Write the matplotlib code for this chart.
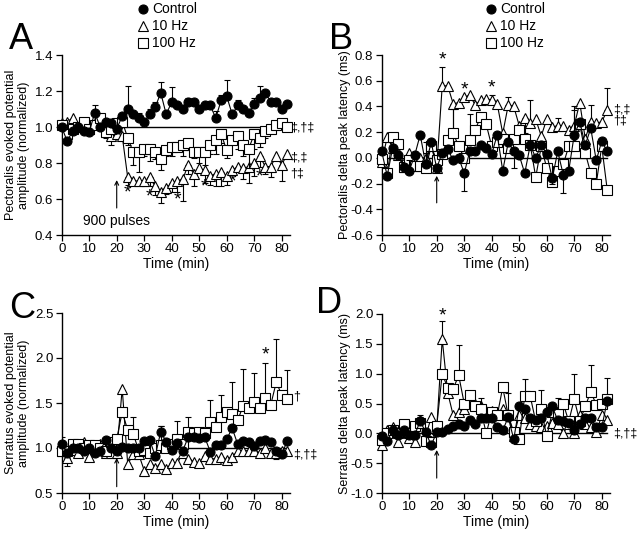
import numpy as np
import matplotlib
matplotlib.use("Agg")
import matplotlib.pyplot as plt
from matplotlib.lines import Line2D

plt.rcParams['font.family'] = ['Liberation Sans', 'DejaVu Sans']
plt.rcParams['axes.unicode_minus'] = False

# time points (min)
time = list(range(0, 84, 2))

# ---- A: pectoralis amplitude (normalized) ----
a_ctrl = [1.00, 0.92, 0.98, 1.00, 0.98, 0.97, 1.08, 1.00, 1.03, 1.02,
          0.99, 1.06, 1.10, 1.07, 1.05, 1.03, 1.07, 1.11, 1.19, 1.07,
          1.14, 1.12, 1.10, 1.14, 1.14, 1.10, 1.12, 1.12, 1.05, 1.15,
          1.17, 1.07, 1.12, 1.10, 1.08, 1.13, 1.16, 1.19, 1.14, 1.14,
          1.10, 1.13]
a_10 = [1.02, 1.03, 1.05, 1.00, 1.02, 0.99, 1.02, 1.03, 0.97, 0.95,
        0.96, 0.95, 0.72, 0.70, 0.70, 0.70, 0.72, 0.67, 0.64, 0.66,
        0.69, 0.70, 0.71, 0.79, 0.74, 0.77, 0.76, 0.73, 0.74, 0.75,
        0.73, 0.76, 0.78, 0.77, 0.78, 0.80, 0.84, 0.78, 0.78, 0.84,
        0.79, 0.85]
a_100 = [1.01, 0.96, 0.99, 1.00, 1.03, 0.99, 1.01, 1.05, 0.97, 0.99,
         1.02, 1.03, 0.94, 0.86, 0.86, 0.88, 0.88, 0.86, 0.82, 0.87,
         0.89, 0.89, 0.90, 0.91, 0.86, 0.86, 0.86, 0.90, 0.93, 0.96,
         0.87, 0.93, 0.95, 0.90, 0.88, 0.96, 0.94, 0.98, 0.99, 1.01,
         1.02, 1.00]
a_ctrl_err = [0, 0, 0, 0, 0, 0, 0.04, 0, 0, 0,
              0, 0, 0.13, 0, 0.03, 0, 0.03, 0.03, 0.06, 0,
              0.08, 0, 0, 0.02, 0, 0, 0, 0, 0.04, 0.03,
              0.09, 0, 0.03, 0, 0, 0.03, 0.07, 0, 0, 0,
              0, 0]
a_10_err = [0, 0, 0, 0, -0.02, 0, 0, 0, -0.03, -0.05,
            0, 0, -0.04, 0, 0, -0.03, -0.05, -0.05, -0.06, -0.03,
            -0.05, -0.06, -0.12, -0.05, -0.07, 0, -0.07, -0.05, -0.07, -0.08,
            -0.05, 0, 0, -0.06, -0.09, -0.07, -0.06, -0.04, -0.06, 0,
            -0.09, 0]
a_100_err = [0, -0.03, 0, 0, 0, 0, 0, 0, -0.02, 0,
             -0.03, 0, -0.04, -0.07, -0.11, -0.04, -0.07, -0.04, -0.06, -0.03,
             -0.05, 0, -0.06, -0.04, -0.03, -0.06, -0.07, -0.05, -0.08, -0.05,
             -0.04, 0, -0.07, -0.06, -0.11, -0.08, -0.05, -0.04, 0, 0,
             0, 0]

# ---- B: pectoralis delta peak latency (ms) ----
b_ctrl = [0.05, -0.14, 0.08, 0.02, -0.07, -0.10, 0.02, 0.18, -0.05, 0.12,
          -0.08, 0.04, 0.07, -0.02, 0.00, -0.12, 0.05, 0.05, 0.10, 0.08,
          0.03, 0.18, -0.10, 0.12, 0.05, 0.02, -0.12, 0.10, 0.00, 0.10,
          0.03, -0.16, 0.05, -0.13, -0.10, 0.18, 0.28, 0.10, 0.23, -0.02,
          0.13, 0.05]
b_10 = [-0.03, 0.16, 0.08, 0.02, -0.07, 0.04, -0.03, 0.00, 0.00, 0.10,
        -0.08, 0.56, 0.56, 0.42, 0.43, 0.47, 0.49, 0.41, 0.45, 0.46,
        0.45, 0.42, 0.19, 0.41, 0.40, 0.25, 0.31, 0.27, 0.30, 0.17,
        0.30, 0.24, 0.25, 0.25, 0.22, 0.25, 0.43, 0.15, 0.28, 0.27,
        0.28, 0.37]
b_100 = [-0.01, -0.12, 0.16, 0.11, -0.07, -0.02, -0.06, -0.06, -0.08, 0.09,
         -0.02, 0.03, 0.14, 0.19, 0.09, 0.00, 0.14, 0.22, 0.32, 0.26,
         0.09, 0.12, 0.15, 0.08, 0.15, 0.22, 0.15, 0.10, -0.15, 0.09,
         -0.08, -0.19, -0.10, -0.05, 0.09, 0.09, 0.26, 0.04, -0.12, -0.20,
         0.09, -0.25]
b_ctrl_err = [0, 0, 0, 0, 0, 0.08, 0, 0, 0.09, 0,
              0, 0, 0, 0, 0, -0.14, 0, 0, 0, 0,
              0, 0, 0, 0, -0.13, 0, 0, 0, 0, 0,
              0, -0.04, 0, -0.14, 0, 0, 0, 0, 0, 0,
              0, 0]
b_10_err = [0, 0, 0, 0, 0, 0, 0, 0, 0.12, 0,
            0, 0.15, 0, -0.20, 0, 0, 0, 0, 0, 0,
            0.04, 0, 0, 0.06, 0, 0, -0.12, 0.18, 0, 0,
            0, 0, 0.06, 0, 0, 0.12, 0, 0, 0.13, 0,
            0, 0.17]
b_100_err = [0, 0, 0, 0, 0, 0, 0, 0, 0, 0,
             0, 0, 0, 0.19, 0, 0, 0.20, 0, 0, 0,
             0, 0, 0, 0, 0, 0, 0, 0, 0, 0,
             0, 0, 0, 0, 0, 0.31, 0, 0, 0, 0,
             0, 0]

# ---- C: serratus amplitude (normalized) ----
c_ctrl = [1.04, 0.95, 1.00, 1.00, 0.97, 1.00, 0.95, 0.97, 1.09, 1.00,
          0.97, 1.01, 1.00, 1.00, 1.00, 1.08, 1.09, 0.91, 1.18, 1.07,
          0.98, 1.06, 0.97, 1.12, 1.12, 1.11, 1.12, 0.96, 1.03, 1.03,
          1.10, 1.22, 1.04, 1.08, 1.07, 1.02, 1.08, 1.09, 1.07, 0.97,
          0.93, 1.08]
c_10 = [0.97, 0.89, 0.98, 0.95, 1.07, 0.90, 1.00, 1.05, 0.94, 0.95,
        0.95, 1.66, 0.82, 0.93, 0.93, 0.75, 0.82, 0.78, 0.82, 0.77,
        0.83, 0.83, 0.94, 0.88, 0.85, 0.83, 0.91, 0.88, 0.88, 0.90,
        0.87, 0.90, 0.97, 0.97, 0.97, 0.97, 0.95, 1.00, 0.95, 0.95,
        0.97, 0.97]
c_100 = [0.97, 0.97, 1.05, 1.05, 1.00, 1.03, 1.03, 1.00, 0.97, 1.07,
         1.10, 1.40, 1.20, 1.16, 0.97, 0.98, 0.95, 1.00, 1.03, 1.00,
         1.05, 1.10, 1.05, 1.18, 1.17, 1.18, 1.17, 1.29, 1.23, 1.35,
         1.40, 1.38, 1.31, 1.47, 1.44, 1.51, 1.44, 1.56, 1.48, 1.73,
         1.59, 1.55]
c_ctrl_err = [0.08, 0, 0, 0, 0, 0, 0, 0, 0, 0,
              0, 0, 0, 0, 0, 0, 0, 0, 0.06, 0,
              0, 0, 0, 0, 0, 0, 0, 0, 0, 0,
              0, 0, 0, 0, 0, 0, 0, 0, 0, 0,
              0, 0]
c_10_err = [0, -0.09, 0, -0.05, 0, -0.04, 0, 0, -0.04, 0,
            0, 0, 0, 0, 0, -0.06, -0.05, 0, -0.05, -0.04,
            -0.04, 0, 0, -0.04, -0.05, 0, -0.05, 0, -0.04, -0.05,
            0, -0.06, 0, 0, 0, -0.05, 0, 0, 0, -0.07,
            0, 0]
c_100_err = [0, 0, 0, 0, 0, 0, 0, 0, 0, 0.03,
             0, 0, 0.03, 0.19, 0, 0, 0, 0, 0.22, 0,
             0, 0.20, 0, 0.16, 0, 0, 0, 0.24, 0, 0.24,
             0, 0.35, 0, 0.41, 0, 0.32, 0, 0.38, 0, 0.48,
             0, 0.32]

# ---- D: serratus delta peak latency (ms) ----
d_ctrl = [-0.05, -0.13, 0.05, -0.03, 0.05, -0.03, -0.02, 0.20, 0.02, -0.20,
          0.02, 0.03, 0.08, 0.12, 0.15, 0.12, 0.22, 0.15, 0.25, 0.25,
          0.25, 0.10, 0.05, 0.27, -0.10, 0.45, 0.40, 0.26, 0.22, 0.25,
          0.35, 0.45, 0.22, 0.20, 0.18, 0.05, 0.15, 0.25, 0.25, 0.10,
          0.10, 0.55]
d_10 = [-0.20, 0.05, 0.10, -0.15, 0.10, -0.07, -0.15, 0.22, -0.05, 0.27,
        0.08, 1.58, 0.68, 0.30, 0.35, 0.40, 0.55, 0.50, 0.45, 0.38,
        0.38, 0.35, 0.40, 0.32, -0.05, 0.30, 0.25, 0.15, 0.12, 0.10,
        0.12, 0.18, 0.15, 0.00, 0.15, 0.00, 0.30, 0.15, 0.10, 0.02,
        0.30, 0.22]
d_100 = [-0.12, 0.00, 0.05, 0.00, 0.15, 0.00, 0.12, 0.18, -0.13, -0.15,
         0.12, 1.00, 0.76, 0.75, 0.97, 0.50, 0.65, 0.45, 0.40, 0.00,
         0.35, 0.30, 0.77, 0.30, 0.02, -0.10, 0.62, 0.62, 0.20, 0.40,
         -0.05, 0.35, 0.32, 0.50, 0.20, 0.57, 0.20, 0.45, 0.70, 0.48,
         0.50, 0.58]
d_ctrl_err = [0, 0, 0, 0, 0, 0, 0, 0.08, 0, 0,
              -0.05, 0, 0, 0, 0, 0, 0, 0, 0, 0,
              0, 0, 0, 0, 0, 0, 0, 0, 0, 0,
              0, 0, 0, 0, 0, 0, 0, 0, 0, 0,
              0, 0]
d_10_err = [0, 0, 0, 0, 0, 0, 0, 0.08, 0, 0,
            0, 0.30, 0, 0, 0, 0, 0, 0, 0, 0,
            0, 0, 0, 0, 0, 0, 0, 0, 0, 0,
            0, 0, 0, 0, 0, 0, 0, 0, 0, 0,
            0, 0]
d_100_err = [0, 0, 0, 0, 0, 0, 0, 0, 0, 0,
             0, 0, 0, 0, 0.51, 0, 0, 0, 0.20, 0,
             0, 0, 0, 0.37, 0, 0, 0.29, 0, 0, 0.32,
             0, 0, 0.28, 0, 0, 0.43, 0, 0, 0.45, 0,
             0, 0.35]

# significance marks: (time, y, text)
a_marks = [(24, 0.635, '*'), (32, 0.613, '*'), (42, 0.594, '*'),
           (52, 0.668, '*'), (62, 0.696, '*'), (72, 0.724, '*')]
b_marks = [(22, 0.76, '*'), (30, 0.53, '*'), (40, 0.54, '*')]
c_marks = [(74, 2.03, '*')]
d_marks = [(22, 1.97, '*')]
a_daggers = [(83.2, 1.0, '‡,†‡'), (83.2, 0.83, '‡,‡'), (83.2, 0.74, '†‡')]
b_daggers = [(84, 0.38, '‡,‡'), (84, 0.29, '†‡')]
c_daggers = [(84, 1.57, '†'), (84, 0.93, '‡,†‡')]
d_daggers = [(84, -0.01, '‡,†‡')]

W, H = 640, 533
fig = plt.figure(figsize=(6.4, 5.33), dpi=100)


def px_axes(left, top, right, bottom):
    return fig.add_axes([left / W, 1 - bottom / H, (right - left) / W, (bottom - top) / H])


def draw_series(ax, y, err, marker, face, z):
    t = np.array(time)
    y = np.array(y)
    e = np.array(err)
    m = e != 0
    lo = np.where(e[m] < 0, -e[m], 0)
    up = np.where(e[m] > 0, e[m], 0)
    ax.errorbar(t[m], y[m], yerr=[lo, up], fmt='none', ecolor='black',
                elinewidth=0.8, capsize=2, capthick=0.8, zorder=z)
    ax.plot(t, y, color='black', lw=0.8, marker=marker, ms=6.5 if marker != '^' else 7,
            mfc=face, mec='black', mew=0.8, zorder=z + 0.5, clip_on=False)


def setup(ax, ylim, yticks, ylabel, label_x, ref, arrow, marks, daggers):
    ax.set_xlim(0, 83)
    ax.set_ylim(*ylim)
    ax.set_xticks(range(0, 90, 10))
    ax.set_yticks(yticks)
    ax.set_yticklabels(['{:.1f}'.format(v) for v in yticks])
    for s in ['top', 'right']:
        ax.spines[s].set_visible(False)
    for s in ['left', 'bottom']:
        ax.spines[s].set_linewidth(1.0)
    ax.tick_params(direction='out', length=4, width=0.9, labelsize=9.5, pad=2)
    ax.set_xlabel('Time (min)', fontsize=10, labelpad=1)
    ax.set_ylabel(ylabel, fontsize=9, linespacing=1.1)
    ax.yaxis.set_label_coords(label_x, 0.5)
    ax.plot([0, 82], [ref, ref], color='black', lw=1.0, zorder=1)
    ax.annotate('', xy=(20, arrow[1]), xytext=(20, arrow[0]),
                arrowprops=dict(arrowstyle='->', color='black', lw=0.8,
                                mutation_scale=7, shrinkA=0, shrinkB=0))
    for x, y, s in marks:
        ax.text(x, y, s, fontsize=14, ha='center', va='center')
    for x, y, s in daggers:
        ax.text(x, y, s, fontsize=9, ha='left', va='center', clip_on=False)


panels = [
    (px_axes(61.7, 55, 290, 235), (0.4, 1.4), [0.4, 0.6, 0.8, 1.0, 1.2, 1.4],
     'Pectoralis evoked potential\namplitude (normalized)', -0.14, 1.0, (0.55, 0.705),
     a_marks, a_daggers, (a_ctrl, a_ctrl_err), (a_10, a_10_err), (a_100, a_100_err)),
    (px_axes(381.7, 55, 610, 235), (-0.6, 0.8), [-0.6, -0.4, -0.2, 0.0, 0.2, 0.4, 0.6, 0.8],
     'Pectoralis delta peak latency (ms)', -0.135, 0.0, (-0.35, -0.14),
     b_marks, b_daggers, (b_ctrl, b_ctrl_err), (b_10, b_10_err), (b_100, b_100_err)),
    (px_axes(61.7, 313, 290, 493), (0.5, 2.5), [0.5, 1.0, 1.5, 2.0, 2.5],
     'Serratus evoked potential\namplitude (normalized)', -0.14, 1.0, (0.57, 0.89),
     c_marks, c_daggers, (c_ctrl, c_ctrl_err), (c_10, c_10_err), (c_100, c_100_err)),
    (px_axes(381.7, 314, 610, 493), (-1.0, 2.0), [-1.0, -0.5, 0.0, 0.5, 1.0, 1.5, 2.0],
     'Serratus delta peak latency (ms)', -0.135, 0.0, (-0.75, -0.28),
     d_marks, d_daggers, (d_ctrl, d_ctrl_err), (d_10, d_10_err), (d_100, d_100_err)),
]

for (ax, ylim, yt, ylab, lx, ref, arrow, marks, daggers, ctrl, hz10, hz100) in panels:
    setup(ax, ylim, yt, ylab, lx, ref, arrow, marks, daggers)
    draw_series(ax, hz10[0], hz10[1], '^', 'white', 3)
    draw_series(ax, hz100[0], hz100[1], 's', 'white', 4)
    draw_series(ax, ctrl[0], ctrl[1], 'o', 'black', 5)

# "900 pulses" label in panel A
panels[0][0].text(20, 0.48, '900 pulses', fontsize=10, ha='center', va='center')

# panel letters
for letter, x, y in [('A', 9, 49), ('B', 329, 49), ('C', 9, 318), ('D', 316, 313)]:
    fig.text(x / W, 1 - y / H, letter, fontsize=26, ha='left', va='baseline')

# legends (panels A and B)
leg_labels = ['Control', '10 Hz', '100 Hz']
leg_markers = [('o', 'black'), ('^', 'white'), ('s', 'white')]
for x0 in [143, 491]:
    for i, (lab, (mk, fc)) in enumerate(zip(leg_labels, leg_markers)):
        yy = 1 - (9 + i * 17) / H
        fig.add_artist(Line2D([x0 / W], [yy], transform=fig.transFigure, marker=mk,
                              ms=6.5, mfc=fc, mec='black', mew=0.8, linestyle='none'))
        fig.text((x0 + 9) / W, yy, lab, fontsize=10, ha='left', va='center')

fig.savefig('out.png', dpi=100)
